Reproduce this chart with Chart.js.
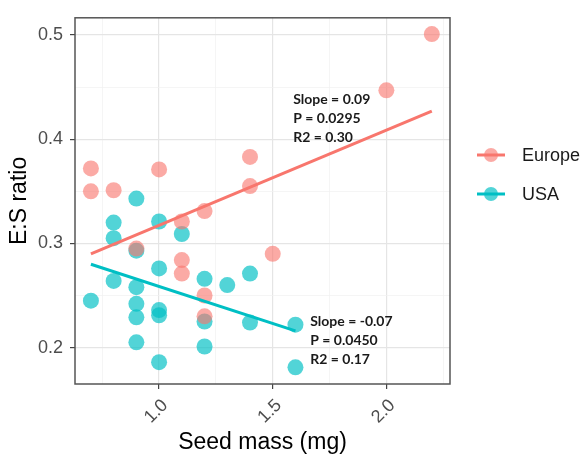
<!DOCTYPE html>
<html>
<head>
<meta charset="utf-8">
<script src="https://cdn.jsdelivr.net/npm/chart.js@4"></script>
<style>
  html, body { margin: 0; padding: 0; background: #fff; }
  #wrap { width: 584px; height: 456px; }
</style>
</head>
<body>
<div id="wrap"><canvas id="esChart" width="584" height="456"></canvas></div>
<script>
// values
const europeX = [0.7, 0.7, 0.8, 0.9, 1.0, 1.1, 1.1, 1.1, 1.2, 1.2, 1.2, 1.4, 1.4, 1.5, 2.0, 2.2];
const europeY = [0.372, 0.350, 0.351, 0.295, 0.371, 0.321, 0.284, 0.271, 0.331, 0.250, 0.230, 0.383, 0.355, 0.290, 0.447, 0.501];

const usaX = [0.7, 0.8, 0.8, 0.8, 0.9, 0.9, 0.9, 0.9, 0.9, 0.9, 1.0, 1.0, 1.0, 1.0, 1.0, 1.1, 1.2, 1.2, 1.2, 1.3, 1.4, 1.4, 1.6, 1.6];
const usaY = [0.245, 0.320, 0.305, 0.264, 0.343, 0.293, 0.258, 0.242, 0.229, 0.205, 0.321, 0.276, 0.236, 0.231, 0.186, 0.309, 0.266, 0.225, 0.201, 0.260, 0.271, 0.224, 0.222, 0.181];

// fitted regression lines (end points)
const europeFitX = [0.7, 2.2];
const europeFitY = [0.290, 0.427];
const usaFitX = [0.7, 1.6];
const usaFitY = [0.280, 0.216];

const europeStats = ["Slope = 0.09", "P = 0.0295", "R2 = 0.30"];
const usaStats = ["Slope = -0.07", "P = 0.0450", "R2 = 0.17"];

const seriesNames = ["Europe", "USA"];

// grid values (major + minor) and labelled ticks
const xGrid = [0.75, 1.0, 1.25, 1.5, 1.75, 2.0, 2.25];
const xMajor = [1.0, 1.5, 2.0];
const yGrid = [0.2, 0.25, 0.3, 0.35, 0.4, 0.45, 0.5];
const yMajor = [0.2, 0.3, 0.4, 0.5];

const RED = "#F8766D";
const TEAL = "#00BFC4";
const redPt = "rgba(248,118,109,0.62)";
const tealPt = "rgba(0,191,196,0.68)";

const toPoints = (xs, ys) => xs.map((x, i) => ({ x: x, y: ys[i] }));
const isMajor = (list, v) => list.some(m => Math.abs(m - v) < 1e-6);

const FONT = "'Liberation Sans', Arial, sans-serif";

const overlay = {
  id: "overlay",
  afterDraw(chart) {
    const { ctx, chartArea: a, scales } = chart;
    ctx.save();
    // panel border
    ctx.strokeStyle = "#555";
    ctx.lineWidth = 1.5;
    ctx.strokeRect(a.left, a.top, a.right - a.left, a.bottom - a.top);

    // stats text
    ctx.fillStyle = "#1a1a1a";
    ctx.font = "bold 14px Lato, 'Open Sans', sans-serif";
    ctx.textAlign = "left";
    ctx.textBaseline = "middle";
    const drawStats = (lines, x, y) => {
      const px = scales.x.getPixelForValue(x);
      const py = scales.y.getPixelForValue(y);
      lines.forEach((t, i) => ctx.fillText(t, px, py + i * 19));
    };
    drawStats(europeStats, 1.59, 0.438);
    drawStats(usaStats, 1.665, 0.225);

    // legend
    const keys = [[RED, redPt], [TEAL, tealPt]];
    seriesNames.forEach((name, i) => {
      const cy = 155 + i * 39;
      ctx.strokeStyle = keys[i][0];
      ctx.lineWidth = 3;
      ctx.beginPath();
      ctx.moveTo(477, cy);
      ctx.lineTo(505, cy);
      ctx.stroke();
      ctx.fillStyle = keys[i][1];
      ctx.beginPath();
      ctx.arc(491, cy, 7, 0, Math.PI * 2);
      ctx.fill();
      ctx.fillStyle = "#1a1a1a";
      ctx.font = "18px " + FONT;
      ctx.fillText(name, 522, cy + 1);
    });
    ctx.restore();
  }
};

new Chart(document.getElementById("esChart").getContext("2d"), {
  type: "scatter",
  data: {
    datasets: [
      {
        label: "Europe fit",
        data: toPoints(europeFitX, europeFitY),
        showLine: true,
        borderColor: RED,
        borderWidth: 3,
        pointRadius: 0,
        order: 0
      },
      {
        label: "USA fit",
        data: toPoints(usaFitX, usaFitY),
        showLine: true,
        borderColor: TEAL,
        borderWidth: 3,
        pointRadius: 0,
        order: 0
      },
      {
        label: seriesNames[0],
        data: toPoints(europeX, europeY),
        backgroundColor: redPt,
        borderWidth: 0,
        pointRadius: 8,
        order: 1
      },
      {
        label: seriesNames[1],
        data: toPoints(usaX, usaY),
        backgroundColor: tealPt,
        borderWidth: 0,
        pointRadius: 8,
        order: 2
      }
    ]
  },
  options: {
    responsive: false,
    animation: false,
    layout: { padding: { left: 0, right: 134, top: 13, bottom: 0 } },
    scales: {
      x: {
        type: "linear",
        min: 0.63,
        max: 2.28,
        afterBuildTicks: s => { s.ticks = xGrid.map(v => ({ value: v })); },
        afterFit: s => { s.height = 72; },
        border: { display: false },
        grid: {
          color: c => isMajor(xMajor, c.tick.value) ? "#E5E5E5" : "#F0F0F0",
          lineWidth: c => isMajor(xMajor, c.tick.value) ? 1.2 : 0.7,
          tickColor: c => isMajor(xMajor, c.tick.value) ? "#444" : "rgba(0,0,0,0)",
          tickWidth: 1.2,
          tickLength: 5
        },
        ticks: {
          autoSkip: false,
          minRotation: 45,
          maxRotation: 45,
          padding: 6,
          labelOffset: 6,
          color: "#4D4D4D",
          font: { family: FONT, size: 18 },
          callback: v => isMajor(xMajor, v) ? v.toFixed(1) : ""
        },
        title: {
          display: true,
          text: "Seed mass (mg)",
          color: "#000",
          font: { family: FONT, size: 23 },
          padding: { top: 0, bottom: 0 }
        }
      },
      y: {
        type: "linear",
        min: 0.165,
        max: 0.5166,
        afterBuildTicks: s => { s.ticks = yGrid.map(v => ({ value: v })); },
        afterFit: s => { s.width = 75; },
        border: { display: false },
        grid: {
          color: c => isMajor(yMajor, c.tick.value) ? "#E5E5E5" : "#F0F0F0",
          lineWidth: c => isMajor(yMajor, c.tick.value) ? 1.2 : 0.7,
          tickColor: c => isMajor(yMajor, c.tick.value) ? "#444" : "rgba(0,0,0,0)",
          tickWidth: 1.2,
          tickLength: 5
        },
        ticks: {
          autoSkip: false,
          padding: 7,
          color: "#4D4D4D",
          font: { family: FONT, size: 18 },
          callback: v => isMajor(yMajor, v) ? v.toFixed(1) : ""
        },
        title: {
          display: true,
          text: "E:S ratio",
          color: "#000",
          font: { family: FONT, size: 23 },
          padding: { top: 6, bottom: 0 }
        }
      }
    },
    plugins: {
      legend: { display: false },
      tooltip: { enabled: false }
    }
  },
  plugins: [overlay]
});
</script>
</body>
</html>
